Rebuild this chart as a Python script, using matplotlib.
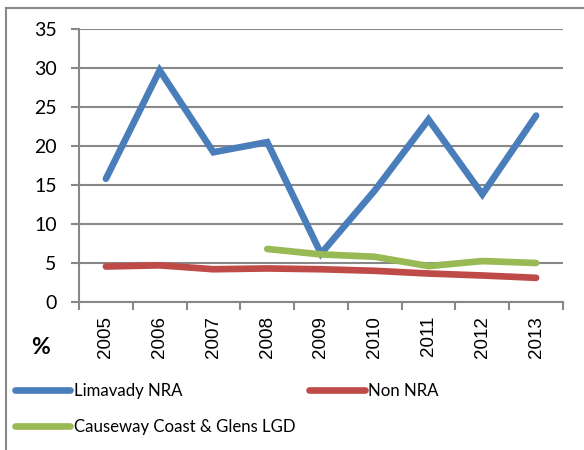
import numpy as np
import matplotlib
matplotlib.use("Agg")
import matplotlib.pyplot as plt

# values (%)
years = ['2005', '2006', '2007', '2008', '2009', '2010', '2011', '2012', '2013']
limavady = [15.8, 29.7, 19.2, 20.5, 6.2, 14.3, 23.4, 13.8, 23.9]
non_nra = [4.55, 4.7, 4.2, 4.3, 4.2, 4.0, 3.65, 3.4, 3.1]
causeway = [np.nan, np.nan, np.nan, 6.8, 6.1, 5.8, 4.6, 5.25, 5.0]
y_ticks = [0, 5, 10, 15, 20, 25, 30, 35]

blue = '#4A7EBB'
red = '#BE4B48'
green = '#98B954'
grey = '#888888'

plt.rcParams['font.family'] = ['Lato', 'DejaVu Sans']

fig = plt.figure(figsize=(5.84, 4.5), dpi=100)
ax = fig.add_axes([79/584, 148/450, 484/584, 273/450])

x = np.arange(len(years))
l1, = ax.plot(x, limavady, color=blue, lw=4.8, solid_capstyle='round', solid_joinstyle='miter')
l2, = ax.plot(x, non_nra, color=red, lw=4.8, solid_capstyle='round', solid_joinstyle='round')
l3, = ax.plot(x, causeway, color=green, lw=4.8, solid_capstyle='round', solid_joinstyle='round')

ax.set_xlim(-0.5, len(years) - 0.5)
ax.set_ylim(0, 35)
ax.set_yticks(y_ticks)
ax.yaxis.grid(True, color=grey, lw=1.5)
ax.set_axisbelow(True)

# category boundaries as tick marks, labels in the middle
ax.set_xticks(np.arange(-0.5, len(years)), minor=False)
ax.set_xticklabels([])
ax.set_xticks(x, minor=True)
ax.set_xticklabels(years, minor=True, rotation=90, family='Liberation Sans', fontsize=13.5)
ax.tick_params(axis='x', which='major', length=6, width=1.5, color=grey, direction='out')
ax.tick_params(axis='x', which='minor', length=0, pad=10)
ax.tick_params(axis='y', length=6, width=1.5, color=grey, labelsize=14, pad=10)

for s in ['top', 'right']:
    ax.spines[s].set_visible(False)
for s in ['left', 'bottom']:
    ax.spines[s].set_color(grey)
    ax.spines[s].set_linewidth(1.5)

fig.text(40/584, 1 - 347/450, '%', fontsize=16.5, fontweight='bold', ha='center', va='center')

leg = fig.legend([l1, l3, l2], ['Limavady NRA', 'Causeway Coast & Glens LGD', 'Non NRA'],
                 ncol=2, loc='upper left', bbox_to_anchor=(15/584, 1 - 383/450),
                 frameon=False, fontsize=12.1, handlelength=3.3, handletextpad=0.2,
                 columnspacing=0.82, labelspacing=1.2, borderpad=0, borderaxespad=0)

# outer chart border (continues past right and bottom edge)
fig.add_artist(plt.Line2D([6/584, 6/584], [0, 1 - 8/450], color=grey, lw=1.5))
fig.add_artist(plt.Line2D([6/584, 1], [1 - 8/450, 1 - 8/450], color=grey, lw=1.5))

fig.savefig('out.png', dpi=100)
